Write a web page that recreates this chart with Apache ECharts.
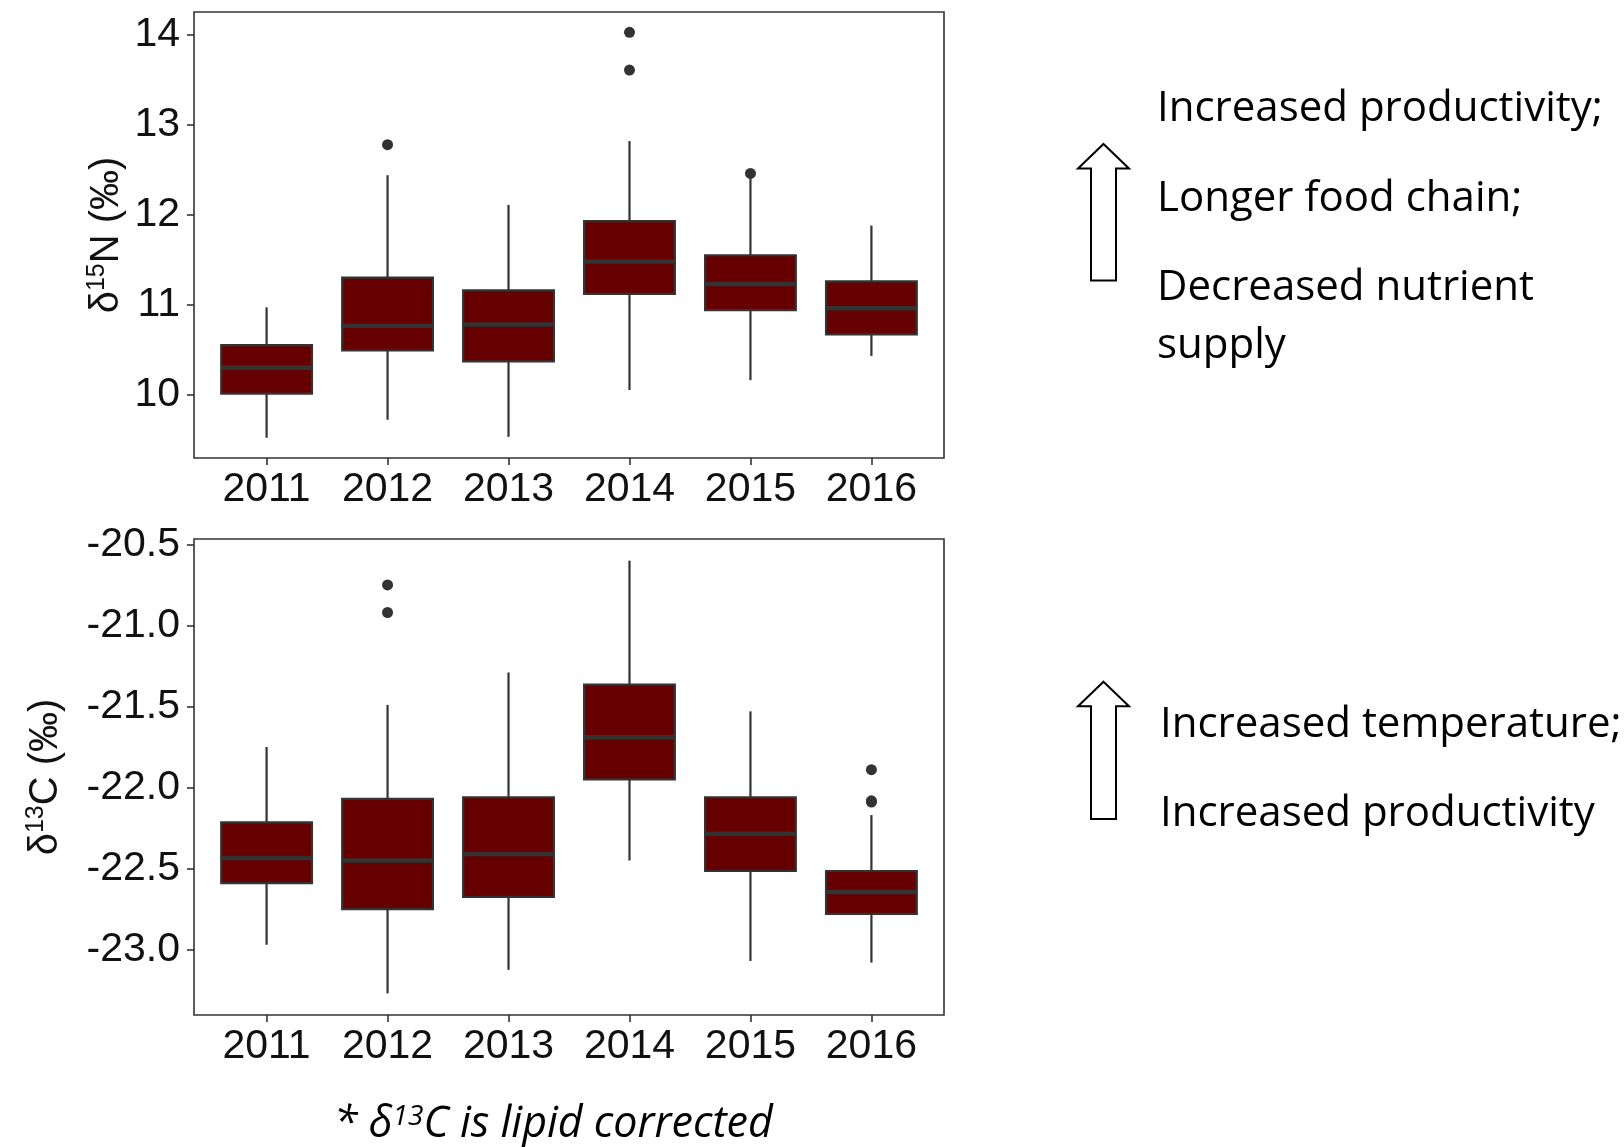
<!DOCTYPE html>
<html>
<head>
<meta charset="utf-8">
<script src="https://cdn.jsdelivr.net/npm/echarts@6/dist/echarts.min.js"></script>
<style>
  html, body { margin: 0; padding: 0; background: #ffffff; }
  #chart { width: 1624px; height: 1147px; }
</style>
</head>
<body>
<div id="chart"></div>
<script>
// Sampling years (x categories)
const years = ['2011', '2012', '2013', '2014', '2015', '2016'];

// δ15N (‰) box statistics per year
const n15Low    = [9.52, 9.72, 9.53, 10.05, 10.16, 10.43];
const n15Q1     = [10.01, 10.49, 10.37, 11.12, 10.94, 10.67];
const n15Median = [10.30, 10.765, 10.78, 11.48, 11.23, 10.96];
const n15Q3     = [10.55, 11.30, 11.16, 11.93, 11.55, 11.26];
const n15High   = [10.97, 12.44, 12.11, 12.82, 12.42, 11.88];
const n15Outliers = [['2012', 12.78], ['2014', 13.61], ['2014', 14.03], ['2015', 12.46]];
const n15Ticks = [10, 11, 12, 13, 14];

// δ13C (‰, lipid corrected) box statistics per year
const c13Low    = [-22.97, -23.27, -23.125, -22.45, -23.07, -23.08];
const c13Q1     = [-22.59, -22.75, -22.675, -21.95, -22.515, -22.78];
const c13Median = [-22.435, -22.45, -22.41, -21.69, -22.285, -22.645];
const c13Q3     = [-22.215, -22.07, -22.06, -21.365, -22.06, -22.515];
const c13High   = [-21.75, -21.49, -21.29, -20.60, -21.53, -22.17];
const c13Outliers = [['2012', -20.75], ['2012', -20.92], ['2016', -21.89], ['2016', -22.09], ['2016', -22.082]];
const c13Ticks = [-23.0, -22.5, -22.0, -21.5, -21.0, -20.5];

const BOX_FILL = '#660000';
const INK = '#333333';
const BOX_WIDTH = 0.75;            // in x-axis units (one unit per year)
const AXIS_FONT = 'Liberation Sans';
const NOTE_FONT = 'Open Sans';
const xPositions = years.map((_, i) => i + 1);

function boxRows(low, q1, med, q3, high) {
  return years.map((_, i) => [i + 1, low[i], q1[i], med[i], q3[i], high[i]]);
}
function outlierRows(list) {
  return list.map(([yr, v]) => [years.indexOf(yr) + 1, v]);
}
// padded value range, 5% on each side of the data
function paddedRange(low, high, outliers) {
  const vals = low.concat(high, outliers.map(o => o[1]));
  const lo = Math.min(...vals), hi = Math.max(...vals);
  const pad = (hi - lo) * 0.05;
  return [lo - pad, hi + pad];
}

// box + whiskers without end caps, median as a heavy bar
function renderBox(params, api) {
  const x = api.value(0);
  const lo = api.coord([x, api.value(1)]);
  const q1 = api.coord([x, api.value(2)]);
  const md = api.coord([x, api.value(3)]);
  const q3 = api.coord([x, api.value(4)]);
  const hi = api.coord([x, api.value(5)]);
  const half = api.size([BOX_WIDTH, 0])[0] / 2;
  return {
    type: 'group',
    children: [
      { type: 'line', shape: { x1: lo[0], y1: lo[1], x2: q1[0], y2: q1[1] },
        style: { stroke: INK, lineWidth: 2.2 } },
      { type: 'line', shape: { x1: q3[0], y1: q3[1], x2: hi[0], y2: hi[1] },
        style: { stroke: INK, lineWidth: 2.2 } },
      { type: 'rect', shape: { x: q3[0] - half, y: q3[1], width: half * 2, height: q1[1] - q3[1] },
        style: { fill: BOX_FILL, stroke: INK, lineWidth: 2.2 } },
      { type: 'line', shape: { x1: md[0] - half, y1: md[1], x2: md[0] + half, y2: md[1] },
        style: { stroke: INK, lineWidth: 4.6 } }
    ]
  };
}

function xAxisFor(gridIndex) {
  return {
    type: 'value', gridIndex, min: 0.4, max: 6.6,
    splitLine: { show: false },
    axisLine: { show: false },
    axisTick: { show: true, customValues: xPositions, length: 7, lineStyle: { color: INK, width: 1.6 } },
    axisLabel: {
      customValues: xPositions,
      formatter: v => years[Math.round(v) - 1],
      fontFamily: AXIS_FONT, fontSize: 41, color: '#111', margin: 11
    }
  };
}

function yAxisFor(gridIndex, range, ticks, digits, isotope, gap) {
  return {
    type: 'value', gridIndex, min: range[0], max: range[1],
    splitLine: { show: false },
    axisLine: { show: false },
    axisTick: { show: true, customValues: ticks, length: 7, lineStyle: { color: INK, width: 1.6 } },
    axisLabel: {
      customValues: ticks,
      formatter: v => Number(v).toFixed(digits),
      fontFamily: AXIS_FONT, fontSize: 41, color: '#111', margin: 14
    },
    name: '{t|δ}{s|' + isotope[0] + '}{t|' + isotope[1] + ' (‰)}',
    nameLocation: 'middle', nameRotate: 90, nameGap: gap,
    nameTextStyle: {
      rich: {
        t: { fontFamily: AXIS_FONT, fontSize: 40, color: '#111' },
        s: { fontFamily: AXIS_FONT, fontSize: 25, color: '#111', padding: [0, 0, 19, 0] }
      }
    }
  };
}

// outlined block arrow pointing up
function upArrow(tipY, bottomY) {
  const cx = 1103.5, headY = tipY + 24.5;
  return {
    type: 'polygon',
    shape: { points: [
      [cx, tipY], [cx + 25.5, headY], [cx + 12.5, headY], [cx + 12.5, bottomY],
      [cx - 12.5, bottomY], [cx - 12.5, headY], [cx - 25.5, headY]
    ] },
    style: { fill: '#ffffff', stroke: '#000000', lineWidth: 2 }
  };
}
function note(text, x, baseline) {
  return {
    type: 'text', x, y: baseline - 15.5,
    style: { text, fontFamily: NOTE_FONT, fontSize: 42, fill: '#000000', align: 'left', verticalAlign: 'middle' }
  };
}

const n15Range = paddedRange(n15Low, n15High, n15Outliers);
const c13Range = paddedRange(c13Low, c13High, c13Outliers);

const chart = echarts.init(document.getElementById('chart'), null, { renderer: 'canvas' });
chart.setOption({
  backgroundColor: '#ffffff',
  animation: false,
  grid: [
    { left: 194, top: 12, width: 750, height: 446, show: true, borderColor: INK, borderWidth: 1.6,
      backgroundColor: 'transparent', outerBoundsMode: 'none' },
    { left: 194, top: 539, width: 750, height: 476, show: true, borderColor: INK, borderWidth: 1.6,
      backgroundColor: 'transparent', outerBoundsMode: 'none' }
  ],
  xAxis: [xAxisFor(0), xAxisFor(1)],
  yAxis: [
    yAxisFor(0, n15Range, n15Ticks, 0, ['15', 'N'], 65),
    yAxisFor(1, c13Range, c13Ticks, 1, ['13', 'C'], 126)
  ],
  series: [
    { type: 'custom', name: 'δ15N', xAxisIndex: 0, yAxisIndex: 0,
      renderItem: renderBox, encode: { x: 0, y: [1, 2, 3, 4, 5] },
      data: boxRows(n15Low, n15Q1, n15Median, n15Q3, n15High) },
    { type: 'scatter', xAxisIndex: 0, yAxisIndex: 0, symbol: 'circle', symbolSize: 11,
      itemStyle: { color: INK, opacity: 1 }, data: outlierRows(n15Outliers) },
    { type: 'custom', name: 'δ13C', xAxisIndex: 1, yAxisIndex: 1,
      renderItem: renderBox, encode: { x: 0, y: [1, 2, 3, 4, 5] },
      data: boxRows(c13Low, c13Q1, c13Median, c13Q3, c13High) },
    { type: 'scatter', xAxisIndex: 1, yAxisIndex: 1, symbol: 'circle', symbolSize: 11,
      itemStyle: { color: INK, opacity: 1 }, data: outlierRows(c13Outliers) }
  ],
  graphic: [
    upArrow(144, 280.5),
    note('Increased productivity;', 1157, 124.5),
    note('Longer food chain;', 1157, 214.5),
    note('Decreased nutrient', 1157, 304),
    note('supply', 1157, 362),
    upArrow(681.7, 819),
    note('Increased temperature;', 1160, 741),
    note('Increased productivity', 1160, 830),
    {
      type: 'text', x: 334, y: 1125,
      style: {
        text: '{a|* δ}{s|13}{a|C is lipid corrected}',
        align: 'left', verticalAlign: 'middle',
        rich: {
          a: { fontFamily: NOTE_FONT, fontSize: 43, fontStyle: 'italic', fill: '#000000' },
          s: { fontFamily: NOTE_FONT, fontSize: 28, fontStyle: 'italic', fill: '#000000', padding: [0, 0, 16, 0] }
        }
      }
    }
  ]
});
</script>
</body>
</html>
